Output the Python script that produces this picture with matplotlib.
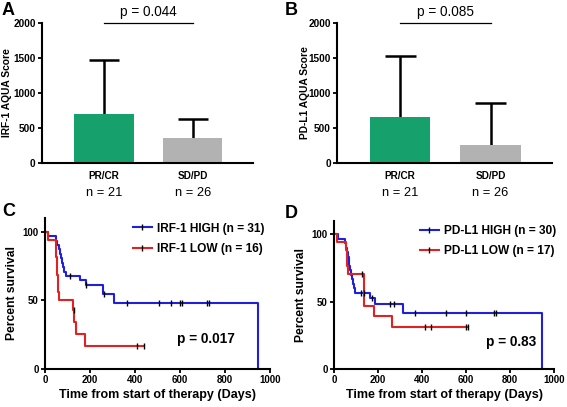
import numpy as np
import matplotlib
matplotlib.use("Agg")
import matplotlib.pyplot as plt
from matplotlib.lines import Line2D
import matplotlib.transforms as mtransforms

plt.rcParams['font.family'] = ['Liberation Sans', 'DejaVu Sans']

# bar panels (A, B)
groups = ['PR/CR', 'SD/PD']
group_n = ['n = 21', 'n = 26']
irf_mean = [700, 355]
irf_sd = [775, 270]
pdl1_mean = [650, 260]
pdl1_sd = [880, 600]
bar_colors = ['#16a06b', '#b2b2b2']
p_bar = ['p = 0.044', 'p = 0.085']

# Kaplan-Meier panels (C, D): step times (days) and survival (%) after each step
c_high_t = [0, 12, 50, 55, 60, 65, 70, 75, 80, 86, 92, 157, 180, 258, 307, 945]
c_high_s = [100, 96.8, 93.5, 90.3, 87.1, 83.9, 80.6, 77.4, 74.2, 71.0, 67.7, 64.5, 61.1, 55.0, 48.4, 0]
c_high_cens_t = [113, 182, 262, 363, 508, 559, 600, 607, 719, 729]
c_high_cens_s = [67.7, 61.1, 55.0, 48.4, 48.4, 48.4, 48.4, 48.4, 48.4, 48.4]

c_low_t = [0, 12, 48, 50, 52, 54, 56, 58, 64, 126, 131, 136, 178, 440]
c_low_s = [100, 93.75, 87.5, 81.25, 75, 68.75, 62.5, 56.25, 50, 42.9, 34.3, 25.7, 17.1, 17.1]
c_low_cens_t = [129, 407, 440]
c_low_cens_s = [42.9, 17.1, 17.1]

d_high_t = [0, 18, 50, 54, 58, 62, 66, 70, 74, 78, 82, 86, 90, 95, 164, 188, 312, 945]
d_high_s = [100, 96.7, 93.3, 90.0, 86.7, 83.3, 80.0, 76.7, 73.3, 70.0, 66.7, 63.3, 60.0, 56.7, 52.6, 48.5, 41.9, 0]
d_high_cens_t = [122, 138, 172, 256, 271, 368, 511, 602, 728, 736]
d_high_cens_s = [56.7, 56.7, 52.6, 48.5, 48.5, 41.9, 41.9, 41.9, 41.9, 41.9]

d_low_t = [0, 15, 55, 58, 61, 64, 137, 183, 265, 608]
d_low_s = [100, 94.1, 88.2, 82.4, 76.5, 70.6, 47.1, 39.2, 31.4, 31.4]
d_low_cens_t = [126, 413, 443, 600, 608]
d_low_cens_s = [70.6, 31.4, 31.4, 31.4, 31.4]

km_labels_c = ['IRF-1 HIGH (n = 31)', 'IRF-1 LOW (n = 16)']
km_labels_d = ['PD-L1 HIGH (n = 30)', 'PD-L1 LOW (n = 17)']
p_km = ['p = 0.017', 'p = 0.83']

BLUE = '#1f1fdc'
RED = '#e02222'

fig = plt.figure(figsize=(5.67, 4.07), dpi=100)
W, H = 567, 407


def px_axes(l, t, r, b):
    return fig.add_axes([l / W, 1 - b / H, (r - l) / W, (b - t) / H])


def style(ax, size):
    for s in ['top', 'right']:
        ax.spines[s].set_visible(False)
    for s in ['left', 'bottom']:
        ax.spines[s].set_linewidth(1.5)
    ax.tick_params(width=1.3, length=3, pad=1.5, labelsize=size)
    for lab in ax.get_xticklabels() + ax.get_yticklabels():
        lab.set_fontweight('bold')


def bar_panel(ax, means, sds, ylabel, ptext, ylab_x):
    x = np.arange(len(groups))
    ax.bar(x, means, width=0.67, color=bar_colors, zorder=2)
    tops = np.array(means) + np.array(sds)
    ax.vlines(x, means, tops, color='k', lw=1.8, zorder=1)
    ax.hlines(tops, x - 0.17, x + 0.17, color='k', lw=1.8, zorder=3)
    ax.set_xlim(-0.7, 1.68)
    ax.set_ylim(0, 2000)
    ax.set_yticks([0, 500, 1000, 1500, 2000])
    ax.set_xticks(x)
    ax.set_xticklabels(groups)
    ax.set_ylabel(ylabel, fontsize=7.4, fontweight='bold')
    ax.yaxis.set_label_coords(ylab_x, 0.5)
    style(ax, 7.2)
    ax.tick_params(axis='x', length=0, pad=6, labelsize=7.2)
    trans = mtransforms.blended_transform_factory(ax.transData, ax.transAxes)
    for xi, n in zip(x, group_n):
        ax.text(xi, -0.215, n, transform=trans, ha='center', va='center', fontsize=9.3)
    ax.plot([0, 1], [2000, 2000], color='k', lw=0.9, clip_on=False)
    ax.text(0.5, 2060, ptext, ha='center', va='bottom', fontsize=9.8)


def km_panel(ax, curves, labels, ptext, anchor):
    for (t, s, ct, cs), col in zip(curves, [BLUE, RED]):
        ax.step(t, s, where='post', color=col, lw=1.5, zorder=2)
        ax.plot(ct, cs, ls='none', marker='|', ms=4, mew=1.0, color='k', zorder=3)
    ax.set_xlim(0, 1000)
    ax.set_ylim(0, 110)
    ax.set_xticks(np.arange(0, 1001, 200))
    ax.set_yticks([0, 50, 100])
    ax.set_xlabel('Time from start of therapy (Days)', fontsize=9, fontweight='bold', labelpad=3)
    ax.set_ylabel('Percent survival', fontsize=8.7, fontweight='bold', labelpad=3)
    style(ax, 7)
    handles = [Line2D([], [], color=c, lw=1.5, marker='|', ms=4, mew=1.0, mec='k')
               for c in [BLUE, RED]]
    ax.legend(handles, labels, loc='upper left', bbox_to_anchor=anchor, frameon=False,
              borderpad=0, borderaxespad=0, handlelength=1.6, handletextpad=0.4,
              labelspacing=0.7, prop={'size': 8.6, 'weight': 'bold'})
    ax.text(ptext[1], ptext[2], ptext[0], fontsize=9.8, fontweight='bold', ha='center', va='center')


axA = px_axes(42, 23, 253, 163)
bar_panel(axA, irf_mean, irf_sd, 'IRF-1 AQUA Score', p_bar[0], -0.142)
axB = px_axes(337, 23, 552, 163)
bar_panel(axB, pdl1_mean, pdl1_sd, 'PD-L1 AQUA Score', p_bar[1], -0.126)

axC = px_axes(45, 218, 270, 369)
km_panel(axC, [(c_high_t, c_high_s, c_high_cens_t, c_high_cens_s),
               (c_low_t, c_low_s, c_low_cens_t, c_low_cens_s)],
         km_labels_c, (p_km[0], 716, 22), (0.39, 0.97))
axD = px_axes(334, 221, 554, 369)
km_panel(axD, [(d_high_t, d_high_s, d_high_cens_t, d_high_cens_s),
               (d_low_t, d_low_s, d_low_cens_t, d_low_cens_s)],
         km_labels_d, (p_km[1], 805, 20), (0.39, 0.975))

for letter, (x, y) in zip('ABCD', [(2, 2), (285, 2), (2, 203), (285, 205)]):
    fig.text(x / W, 1 - y / H, letter, fontsize=13, fontweight='bold', va='top', ha='left')

fig.savefig('out.png', dpi=100)
